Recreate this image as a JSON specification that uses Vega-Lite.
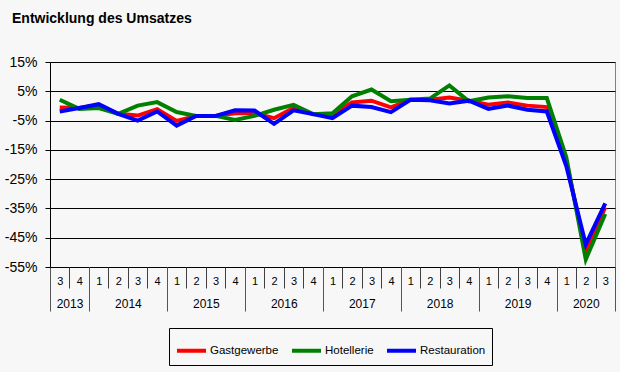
{
  "$schema": "https://vega.github.io/schema/vega-lite/v6.json",
  "width": 565,
  "height": 205,
  "autosize": "none",
  "padding": {"left": 50, "top": 62, "right": 5, "bottom": 105},
  "background": "#f7f7f7",
  "config": {
    "view": {"stroke": "#808080", "strokeWidth": 1},
    "font": "Liberation Sans"
  },
  "title": {
    "text": "Entwicklung des Umsatzes",
    "anchor": "start",
    "frame": "group",
    "dx": -38,
    "offset": 18,
    "baseline": "alphabetic",
    "font": "Liberation Sans",
    "fontSize": 14,
    "fontWeight": "bold",
    "color": "#000000"
  },
  "data": {
    "values": [
      {"i": 0, "Jahr": 2013, "Quartal": 3, "Gastgewerbe": -0.5, "Hotellerie": 2.1, "Restauration": -1.9},
      {"i": 1, "Jahr": 2013, "Quartal": 4, "Gastgewerbe": -0.7, "Hotellerie": -1.0, "Restauration": -0.7},
      {"i": 2, "Jahr": 2014, "Quartal": 1, "Gastgewerbe": 0.3, "Hotellerie": -0.7, "Restauration": 0.6},
      {"i": 3, "Jahr": 2014, "Quartal": 2, "Gastgewerbe": -2.7, "Hotellerie": -2.7, "Restauration": -2.7},
      {"i": 4, "Jahr": 2014, "Quartal": 3, "Gastgewerbe": -3.3, "Hotellerie": 0.1, "Restauration": -5.0},
      {"i": 5, "Jahr": 2014, "Quartal": 4, "Gastgewerbe": -1.1, "Hotellerie": 1.3, "Restauration": -1.9},
      {"i": 6, "Jahr": 2015, "Quartal": 1, "Gastgewerbe": -5.1, "Hotellerie": -2.1, "Restauration": -6.7},
      {"i": 7, "Jahr": 2015, "Quartal": 2, "Gastgewerbe": -3.4, "Hotellerie": -3.4, "Restauration": -3.4},
      {"i": 8, "Jahr": 2015, "Quartal": 3, "Gastgewerbe": -3.4, "Hotellerie": -3.4, "Restauration": -3.4},
      {"i": 9, "Jahr": 2015, "Quartal": 4, "Gastgewerbe": -2.5, "Hotellerie": -4.8, "Restauration": -1.5},
      {"i": 10, "Jahr": 2016, "Quartal": 1, "Gastgewerbe": -2.5, "Hotellerie": -3.4, "Restauration": -1.6},
      {"i": 11, "Jahr": 2016, "Quartal": 2, "Gastgewerbe": -4.2, "Hotellerie": -1.3, "Restauration": -6.1},
      {"i": 12, "Jahr": 2016, "Quartal": 3, "Gastgewerbe": -0.7, "Hotellerie": 0.4, "Restauration": -1.5},
      {"i": 13, "Jahr": 2016, "Quartal": 4, "Gastgewerbe": -2.8, "Hotellerie": -2.8, "Restauration": -2.8},
      {"i": 14, "Jahr": 2017, "Quartal": 1, "Gastgewerbe": -3.0, "Hotellerie": -2.5, "Restauration": -4.2},
      {"i": 15, "Jahr": 2017, "Quartal": 2, "Gastgewerbe": 1.2, "Hotellerie": 3.3, "Restauration": 0.1},
      {"i": 16, "Jahr": 2017, "Quartal": 3, "Gastgewerbe": 1.8, "Hotellerie": 5.6, "Restauration": -0.4},
      {"i": 17, "Jahr": 2017, "Quartal": 4, "Gastgewerbe": -0.5, "Hotellerie": 1.6, "Restauration": -2.1},
      {"i": 18, "Jahr": 2018, "Quartal": 1, "Gastgewerbe": 2.1, "Hotellerie": 2.1, "Restauration": 2.1},
      {"i": 19, "Jahr": 2018, "Quartal": 2, "Gastgewerbe": 2.1, "Hotellerie": 2.5, "Restauration": 1.9},
      {"i": 20, "Jahr": 2018, "Quartal": 3, "Gastgewerbe": 2.9, "Hotellerie": 7.0, "Restauration": 0.8},
      {"i": 21, "Jahr": 2018, "Quartal": 4, "Gastgewerbe": 1.8, "Hotellerie": 1.6, "Restauration": 1.8},
      {"i": 22, "Jahr": 2019, "Quartal": 1, "Gastgewerbe": 0.4, "Hotellerie": 2.9, "Restauration": -1.0},
      {"i": 23, "Jahr": 2019, "Quartal": 2, "Gastgewerbe": 1.2, "Hotellerie": 3.3, "Restauration": 0.1},
      {"i": 24, "Jahr": 2019, "Quartal": 3, "Gastgewerbe": 0.1, "Hotellerie": 2.7, "Restauration": -1.3},
      {"i": 25, "Jahr": 2019, "Quartal": 4, "Gastgewerbe": -0.4, "Hotellerie": 2.7, "Restauration": -1.9},
      {"i": 26, "Jahr": 2020, "Quartal": 1, "Gastgewerbe": -19.0, "Hotellerie": -17.5, "Restauration": -20.5},
      {"i": 27, "Jahr": 2020, "Quartal": 2, "Gastgewerbe": -49.6, "Hotellerie": -52.4, "Restauration": -47.3},
      {"i": 28, "Jahr": 2020, "Quartal": 3, "Gastgewerbe": -34.6, "Hotellerie": -36.9, "Restauration": -33.3}
    ]
  },
  "layer": [
    {
      "transform": [{"fold": ["Gastgewerbe", "Hotellerie", "Restauration"], "as": ["Reihe", "Wert"]}],
      "mark": {"type": "line", "strokeWidth": 4},
      "encoding": {
        "x": {
          "field": "i",
          "type": "quantitative",
          "scale": {"domain": [-0.5, 28.5], "nice": false, "zero": false},
          "axis": {
            "orient": "bottom",
            "title": null,
            "values": [-0.5, 0.5, 1.5, 2.5, 3.5, 4.5, 5.5, 6.5, 7.5, 8.5, 9.5, 10.5, 11.5, 12.5, 13.5, 14.5, 15.5, 16.5, 17.5, 18.5, 19.5, 20.5, 21.5, 22.5, 23.5, 24.5, 25.5, 26.5, 27.5],
            "labelExpr": "'' + ((datum.value + 2.5) % 4 + 1)",
            "labelOffset": 9.74,
            "labelBaseline": "middle",
            "labelPadding": -7,
            "labelFlush": false,
            "labelOverlap": false,
            "labelBound": false,
            "labelFont": "Liberation Sans",
            "labelFontSize": 11,
            "labelColor": "#000000",
            "tickSize": 21,
            "tickColor": "#404040",
            "tickWidth": 1,
            "domain": false,
            "grid": false
          }
        },
        "y": {
          "field": "Wert",
          "type": "quantitative",
          "scale": {"domain": [-55, 15], "nice": false, "zero": false},
          "axis": {
            "title": null,
            "values": [-55, -45, -35, -25, -15, -5, 5, 15],
            "labelExpr": "datum.value + '%'",
            "labelFont": "Liberation Sans",
            "labelFontSize": 14,
            "labelColor": "#000000",
            "labelPadding": 8,
            "labelOverlap": false,
            "labelFlush": false,
            "tickSize": 5,
            "tickColor": "#000000",
            "domainColor": "#000000",
            "grid": true,
            "gridColor": "#000000",
            "gridWidth": 1,
            "gridOpacity": 1
          }
        },
        "color": {
          "field": "Reihe",
          "type": "nominal",
          "scale": {"domain": ["Gastgewerbe", "Hotellerie", "Restauration"], "range": ["#ff0000", "#008000", "#0000ff"]},
          "legend": {
            "orient": "none",
            "legendX": 119,
            "legendY": 266,
            "direction": "horizontal",
            "title": null,
            "strokeColor": "#000000",
            "padding": 6,
            "symbolType": "stroke",
            "symbolStrokeWidth": 4,
            "symbolSize": 841,
            "labelFont": "Liberation Sans",
            "labelFontSize": 11.5,
            "labelColor": "#000000",
            "labelOffset": 2,
            "columnPadding": 5
          }
        }
      }
    },
    {
      "mark": {"type": "point", "opacity": 0},
      "encoding": {
        "x": {
          "field": "i",
          "type": "quantitative",
          "scale": {"domain": [-0.5, 28.5], "nice": false, "zero": false},
          "axis": {
            "orient": "bottom",
            "title": null,
            "values": [0.5, 3.5, 7.5, 11.5, 15.5, 19.5, 23.5, 27],
            "labelExpr": "'' + (floor((datum.value + 2.5) / 4) + 2013)",
            "ticks": false,
            "labelBaseline": "middle",
            "labelPadding": 36,
            "labelFlush": false,
            "labelOverlap": false,
            "labelBound": false,
            "labelFont": "Liberation Sans",
            "labelFontSize": 12,
            "labelColor": "#000000",
            "domain": false,
            "grid": false
          }
        }
      }
    },
    {
      "mark": {"type": "point", "opacity": 0},
      "encoding": {
        "x": {
          "field": "i",
          "type": "quantitative",
          "scale": {"domain": [-0.5, 28.5], "nice": false, "zero": false},
          "axis": {
            "orient": "bottom",
            "title": null,
            "values": [-0.5, 1.5, 5.5, 9.5, 13.5, 17.5, 21.5, 25.5, 28.5],
            "labels": false,
            "tickSize": 44,
            "tickColor": "#555555",
            "tickWidth": 1,
            "domain": false,
            "grid": false
          }
        }
      }
    }
  ],
  "resolve": {"scale": {"x": "independent"}}
}
